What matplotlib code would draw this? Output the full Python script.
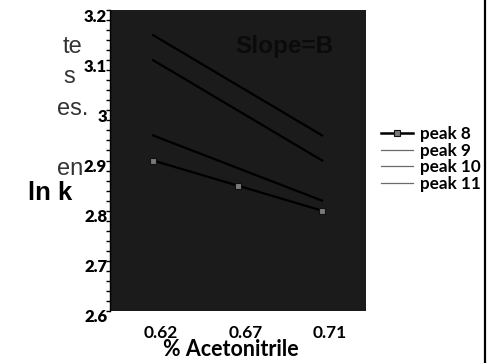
import matplotlib
matplotlib.use("Agg")
import matplotlib.pyplot as plt
import matplotlib.transforms as mtransforms
from matplotlib.lines import Line2D
from matplotlib.ticker import MultipleLocator, FuncFormatter

# ---- data ----
categories = ["0.62", "0.67", "0.71"]
peak8 = [2.90, 2.85, 2.80]
peak9 = [2.95, 2.885, 2.82]
peak10 = [3.10, 3.00, 2.90]
peak11 = [3.15, 3.05, 2.95]
series_labels = ["peak 8", "peak 9", "peak 10", "peak 11"]
side_text = ["te", "s", "es.", "en"]

W, H = 493, 363
fig = plt.figure(figsize=(W / 100, H / 100), dpi=100)
fig.patch.set_facecolor("white")

ax = fig.add_axes([110 / W, 1 - 311 / H, 256 / W, 301 / H])
ax.set_facecolor("#1b1b1b")

x = [1, 2, 3]
ax.plot(x, peak8, color="black", lw=1.6, marker="s", markersize=4,
        markerfacecolor="#7a7a7a", markeredgecolor="#111111", markeredgewidth=0.8, zorder=3)
for s in (peak9, peak10, peak11):
    ax.plot(x, s, color="black", lw=1.6, zorder=2)

ax.set_xlim(0.49, 3.52)
ax.set_ylim(2.6, 3.2)

bold = dict(family=["Lato", "DejaVu Sans"], weight="bold")

ax.set_xticks(x)
ax.set_xticklabels(categories, fontsize=12.5, **bold)
ax.tick_params(axis="x", length=0, pad=10)
off = mtransforms.ScaledTranslation(8 / 100, 0, fig.dpi_scale_trans)
for lab in ax.get_xticklabels():
    lab.set_transform(lab.get_transform() + off)

ax.yaxis.set_major_locator(MultipleLocator(0.1))
ax.yaxis.set_minor_locator(MultipleLocator(0.02))
ax.yaxis.set_major_formatter(FuncFormatter(lambda v, p: f"{round(v, 2):g}"))
ax.tick_params(axis="y", which="major", length=3, width=1, color="black", pad=-1, direction="out")
ax.tick_params(axis="y", which="minor", length=3, width=1, color="black", direction="out")
for lab in ax.get_yticklabels():
    lab.set_fontsize(12)
    lab.set_fontfamily(["Lato", "DejaVu Sans"])
    lab.set_fontweight("heavy")
yoff = mtransforms.ScaledTranslation(0, -5 / 100, fig.dpi_scale_trans)
for lab in ax.get_yticklabels():
    lab.set_transform(lab.get_transform() + yoff)

for side in ("top", "right", "bottom"):
    ax.spines[side].set_visible(False)
ax.spines["left"].set_color("black")
ax.spines["left"].set_linewidth(1)

ax.set_xlabel("% Acetonitrile", fontsize=15.5, labelpad=-1, **bold)
ax.xaxis.label.set_x((231 - 110) / 256)

ax.text((235 - 110) / 256, 1 - (47 - 10) / 301, "Slope=B", transform=ax.transAxes,
        ha="left", va="center", fontsize=17.5, fontweight="bold",
        family=["Liberation Sans", "DejaVu Sans"], color="#0b0b0b")

# y label
fig.text(50 / W, 1 - 200 / H, "ln k", ha="center", va="baseline", fontsize=18.5,
         fontweight="bold", family=["Liberation Sans", "DejaVu Sans"], color="black")

# cropped side text
side_pos = [(82, 53), (75, 83), (88, 115), (83, 175)]
for t, (px, py) in zip(side_text, side_pos):
    fig.text(px / W, 1 - py / H, t, ha="right", va="baseline", fontsize=17,
             family=["Liberation Sans", "DejaVu Sans"], color="#333333")

# legend
handles = [
    Line2D([], [], color="black", lw=1.8, marker="s", markersize=4,
           markerfacecolor="#7a7a7a", markeredgecolor="#111111", markeredgewidth=0.8),
    Line2D([], [], color="#6a6a6a", lw=0.9),
    Line2D([], [], color="#6a6a6a", lw=0.9),
    Line2D([], [], color="#6a6a6a", lw=0.9),
]
leg = fig.legend(handles, series_labels, loc="upper left",
                 bbox_to_anchor=(381 / W, 1 - 126 / H), frameon=False,
                 prop=dict(family=["Lato", "DejaVu Sans"], weight="bold", size=12.3),
                 handlelength=1.9, handletextpad=0.4, labelspacing=0.03,
                 borderpad=0, borderaxespad=0)

# right border line
fig.add_artist(Line2D([484.5 / W, 484.5 / W], [0, 1], transform=fig.transFigure,
                      color="black", lw=1.6))

fig.savefig("out.png", dpi=100, facecolor="white")
